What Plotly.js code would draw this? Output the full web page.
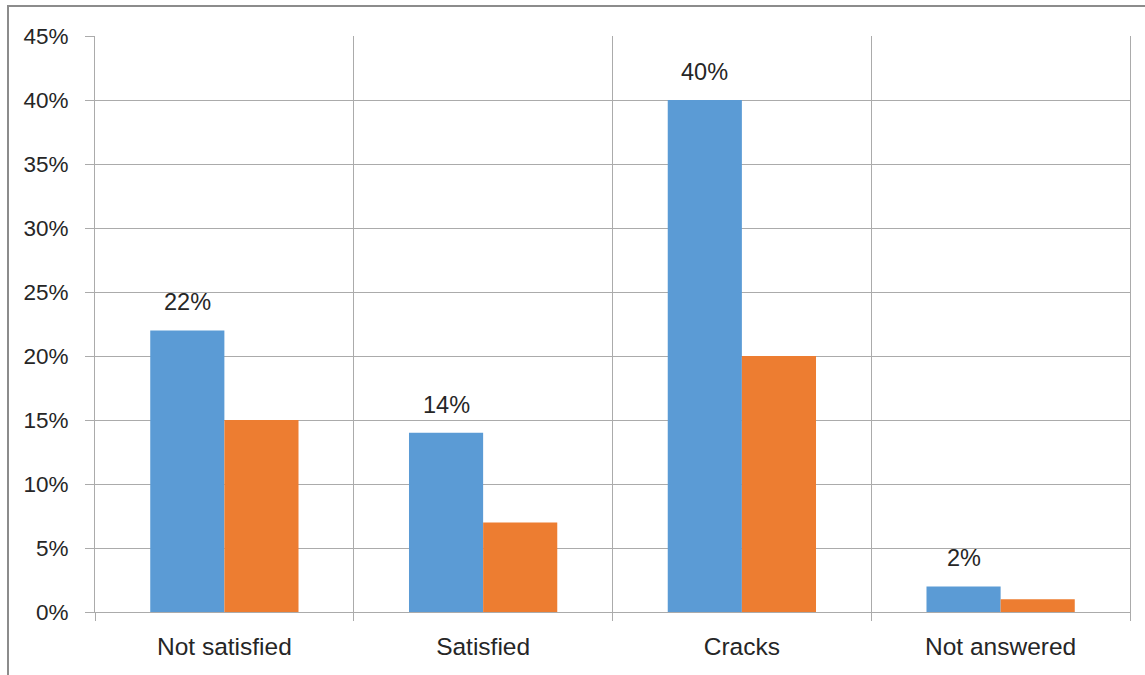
<!DOCTYPE html>
<html>
<head>
<meta charset="utf-8">
<script src="https://cdn.plot.ly/plotly-3.0.1.min.js"></script>
<style>
  html, body { margin: 0; padding: 0; background: #fff; }
  #chart { position: absolute; left: 0; top: 0; width: 1145px; height: 675px; }
  #frame { position: absolute; left: 7px; top: 5px; width: 1200px; height: 720px;
           border: 2px solid #8c8c8c; pointer-events: none; box-sizing: border-box; }
</style>
</head>
<body>
<div id="chart"></div>
<div id="frame"></div>
<script>
const categories = ["Not satisfied", "Satisfied", "Cracks", "Not answered"];
const seriesA = [0.22, 0.14, 0.40, 0.02];
const seriesB = [0.15, 0.07, 0.20, 0.01];
const labelsA = ["22%", "14%", "40%", "2%"];
const yTickVals = [0, 0.05, 0.10, 0.15, 0.20, 0.25, 0.30, 0.35, 0.40, 0.45];
const yTickText = ["0%", "5%", "10%", "15%", "20%", "25%", "30%", "35%", "40%", "45%"];

const fam = "Liberation Sans, Arial, sans-serif";
const txt = "#262626";
const yFont = { family: fam, size: 22.5, color: txt };
const xFont = { family: fam, size: 24.5, color: txt };
const lblFont = { family: fam, size: 23.5, color: txt };
const gridColor = "#ababab";

const traces = [
  { type: "bar", name: "A", x: categories, y: seriesA, marker: { color: "#5B9BD5" }, hoverinfo: "none" },
  { type: "bar", name: "B", x: categories, y: seriesB, marker: { color: "#ED7D31" }, hoverinfo: "none" }
];

const annotations = categories.map((c, i) => ({
  x: c, y: seriesA[i], xref: "x", yref: "y",
  text: labelsA[i], showarrow: false, yanchor: "bottom",
  xshift: -37, yshift: 13, font: lblFont
}));

const layout = {
  width: 1145, height: 675,
  margin: { l: 95, r: 15, t: 36, b: 63 },
  paper_bgcolor: "#ffffff", plot_bgcolor: "#ffffff",
  barmode: "group", bargap: 0.427, bargroupgap: 0,
  showlegend: false,
  font: yFont,
  xaxis: {
    type: "category", tickson: "boundaries",
    showgrid: true, gridcolor: gridColor, gridwidth: 1,
    showline: true, linecolor: gridColor, linewidth: 1,
    ticks: "outside", ticklen: 8, tickcolor: gridColor,
    ticklabelstandoff: 13,
    tickfont: xFont, fixedrange: true
  },
  yaxis: {
    range: [0, 0.45], tickvals: yTickVals, ticktext: yTickText,
    showgrid: true, gridcolor: gridColor, gridwidth: 1,
    showline: true, linecolor: gridColor, linewidth: 1, mirror: true,
    zeroline: false,
    ticks: "outside", ticklen: 9, tickcolor: gridColor,
    ticklabelstandoff: 12,
    tickfont: yFont, fixedrange: true
  },
  annotations: annotations
};

Plotly.newPlot("chart", traces, layout, { displayModeBar: false, staticPlot: true });
</script>
</body>
</html>
